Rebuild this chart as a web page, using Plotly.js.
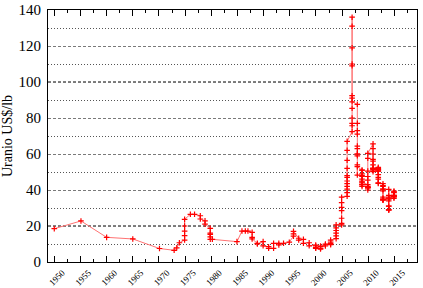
<!DOCTYPE html>
<html>
<head>
<meta charset="utf-8">
<script src="https://cdn.plot.ly/plotly-3.0.1.min.js"></script>
<style>html,body{margin:0;padding:0;background:#fff;}#chart{width:423px;height:288px;}</style>
</head>
<body>
<div id="chart"></div>
<script>
// Uranium spot price (US$/lb)
const yearsEarly = [1950.0, 1955.1, 1960.0, 1965.0, 1970.1, 1972.9, 1973.4, 1973.9,
  1974.9, 1974.9, 1974.9, 1974.9, 1974.9, 1976.0, 1976.8, 1977.9, 1977.9, 1978.8, 1978.8,
  1979.8, 1979.8, 1979.8, 1979.8, 1979.8, 1980.2];
const pricesEarly = [18.5, 22.8, 13.7, 12.8, 7.5, 6.5, 7.9, 10.7,
  12.2, 14.6, 17.2, 20.0, 23.7, 26.5, 26.5, 25.7, 23.9, 22.9, 21.0,
  18.7, 16.0, 15.4, 14.0, 12.6, 12.6];

const yearsMid = [1984.9, 1985.86, 1986.5, 1987.0, 1987.8, 1987.8, 1987.8, 1988.8, 1988.8,
  1989.9, 1989.9, 1990.95, 1990.95, 1991.9, 1991.9, 1992.9, 1992.9, 1993.8, 1994.9,
  1995.7, 1995.7, 1995.7, 1996.7, 1996.7, 1997.6, 1997.6, 1998.7, 1998.7,
  1999.95, 1999.95, 1999.95, 1999.95];
const pricesMid = [11.3, 17.2, 17.2, 17.2, 16.5, 13.7, 12.8, 10.4, 10.0,
  11.3, 9.0, 8.5, 7.6, 7.6, 10.4, 10.4, 9.5, 10.4, 11.0,
  14.4, 15.6, 17.0, 13.2, 12.2, 12.6, 10.4, 10.7, 9.0,
  9.4, 8.9, 8.0, 7.6];

const yearsLate = [2000.87, 2000.87, 2000.87, 2000.87, 2001.8, 2001.8, 2001.8,
  2002.8, 2002.8, 2002.8, 2002.8,
  2003.85, 2003.85, 2003.85, 2003.85, 2003.85, 2003.85,
  2004.9, 2004.9, 2004.9, 2004.9, 2004.9, 2004.9, 2004.9,
  2005.95, 2005.95, 2005.95, 2005.95, 2005.95, 2005.95, 2005.95, 2005.95, 2005.95, 2005.95, 2005.95, 2005.95,
  2006.9, 2006.9, 2006.9, 2006.9, 2006.9, 2006.9, 2006.9, 2006.9, 2006.9, 2006.9, 2006.9, 2006.9, 2006.9,
  2007.9, 2007.9, 2007.9, 2007.9, 2007.9, 2007.9, 2007.9, 2007.9, 2007.9, 2007.9, 2007.9, 2007.9,
  2008.8, 2008.8, 2008.8, 2008.8, 2008.8, 2008.8, 2008.8, 2008.8, 2008.8, 2008.8, 2008.8, 2008.8,
  2009.9, 2009.9, 2009.9, 2009.9, 2009.9, 2009.9, 2009.9, 2009.9, 2009.9, 2009.9, 2009.9, 2009.9,
  2010.9, 2010.9, 2010.9, 2010.9, 2010.9, 2010.9, 2010.9, 2010.9, 2010.9, 2010.9, 2010.9, 2010.9,
  2011.9, 2011.9, 2011.9, 2011.9, 2011.9, 2011.9, 2011.9, 2011.9, 2011.9, 2011.9, 2011.9, 2011.9,
  2012.8, 2012.8, 2012.8, 2012.8, 2012.8, 2012.8, 2012.8, 2012.8, 2012.8, 2012.8, 2012.8, 2012.8,
  2013.9, 2013.9, 2013.9, 2013.9, 2013.9, 2013.9, 2013.9, 2013.9, 2013.9, 2013.9, 2013.9, 2013.9,
  2014.9, 2014.9, 2014.9, 2014.9, 2014.9, 2014.9, 2014.9, 2014.9, 2014.9, 2014.9];
const pricesLate = [7.2, 7.6, 8.5, 8.8, 8.9, 9.5, 10.0,
  9.6, 10.2, 11.0, 12.2,
  13.0, 14.5, 16.0, 17.5, 19.0, 20.6,
  20.6, 21.5, 24.3, 28.5, 30.4, 33.0, 36.0,
  36.5, 38.5, 40.5, 42.0, 43.5, 45.0, 47.0, 48.0, 52.0, 56.5, 62.0, 67.0,
  72.4, 75.7, 80.0, 85.4, 91.0, 109.0, 119.0, 136.0, 131.0, 110.0, 92.4, 77.0, 89.0,
  87.6, 77.0, 73.0, 71.0, 64.4, 60.0, 59.0, 63.0, 60.0, 48.3, 54.0, 53.0,
  51.0, 47.5, 42.0, 43.0, 48.0, 51.0, 49.0, 46.0, 43.0, 45.0, 44.0, 44.5,
  43.0, 41.0, 41.5, 41.5, 40.0, 41.5, 42.0, 45.5, 47.5, 50.5, 57.6, 60.4,
  65.6, 63.0, 60.0, 57.0, 56.0, 54.0, 52.0, 50.2, 52.0, 51.0, 52.0, 51.5,
  52.6, 52.0, 51.0, 51.5, 51.5, 50.5, 50.5, 48.5, 47.0, 46.0, 43.7, 44.0,
  43.5, 42.5, 42.0, 40.5, 40.5, 39.5, 34.5, 34.5, 35.0, 35.0, 36.0, 34.5,
  35.5, 35.0, 34.0, 31.0, 28.9, 29.0, 29.0, 31.0, 35.0, 37.0, 40.4, 36.0,
  37.0, 38.5, 39.0, 39.4, 35.4, 36.5, 36.0, 36.5, 36.5, 37.0];

const yTitle = 'Uranio US$/lb';
const refLevels = [20, 100];

const x = yearsEarly.concat(yearsMid, yearsLate);
const y = pricesEarly.concat(pricesMid, pricesLate);

const serif = '"Liberation Serif", "Times New Roman", Times, serif';

const trace = {
  x: x, y: y, type: 'scatter', mode: 'lines+markers',
  line: {color: '#ff7373', width: 1},
  marker: {symbol: 'cross-thin', size: 4, color: '#ff0000', line: {color: '#ff0000', width: 1.2}},
  hoverinfo: 'skip'
};

const shapes = refLevels.map(v => ({
  type: 'line', xref: 'paper', x0: 0, x1: 1, yref: 'y', y0: v, y1: v,
  line: {color: '#000', width: 1, dash: '3px,2px'}, layer: 'below'
}));

const layout = {
  width: 423, height: 288,
  margin: {l: 48, r: 6, t: 10, b: 26},
  paper_bgcolor: '#fff', plot_bgcolor: '#fff',
  showlegend: false,
  font: {family: serif, color: '#000'},
  xaxis: {
    range: [1948.8, 2019.3],
    tick0: 1950, dtick: 5,
    ticks: 'inside', ticklen: 6, tickwidth: 1, tickcolor: '#000',
    showline: true, linecolor: '#000', linewidth: 1, mirror: 'ticks',
    showgrid: false, zeroline: false,
    tickangle: -45,
    tickfont: {family: serif, size: 9, color: '#000'},
    ticklabelshift: 8,
    ticklabelstandoff: 1,
    minor: {dtick: 2.5, tick0: 1950, ticks: 'inside', ticklen: 3, tickcolor: '#000', showgrid: false}
  },
  yaxis: {
    range: [0, 140],
    tick0: 0, dtick: 20,
    ticks: '', showline: true, linecolor: '#000', linewidth: 1, mirror: true,
    showgrid: true, gridcolor: '#7a7a7a', gridwidth: 1, griddash: '3px,2px',
    zeroline: false,
    tickfont: {family: serif, size: 15, color: '#000'},
    ticklabelstandoff: 3,
    minor: {dtick: 10, tick0: 0, showgrid: true, gridcolor: '#555', gridwidth: 1, griddash: '1px,2px', ticks: ''},
    title: {text: yTitle, font: {family: serif, size: 14, color: '#000'}, standoff: 5}
  },
  shapes: shapes
};

Plotly.newPlot('chart', [trace], layout, {staticPlot: true, displayModeBar: false});
</script>
</body>
</html>
